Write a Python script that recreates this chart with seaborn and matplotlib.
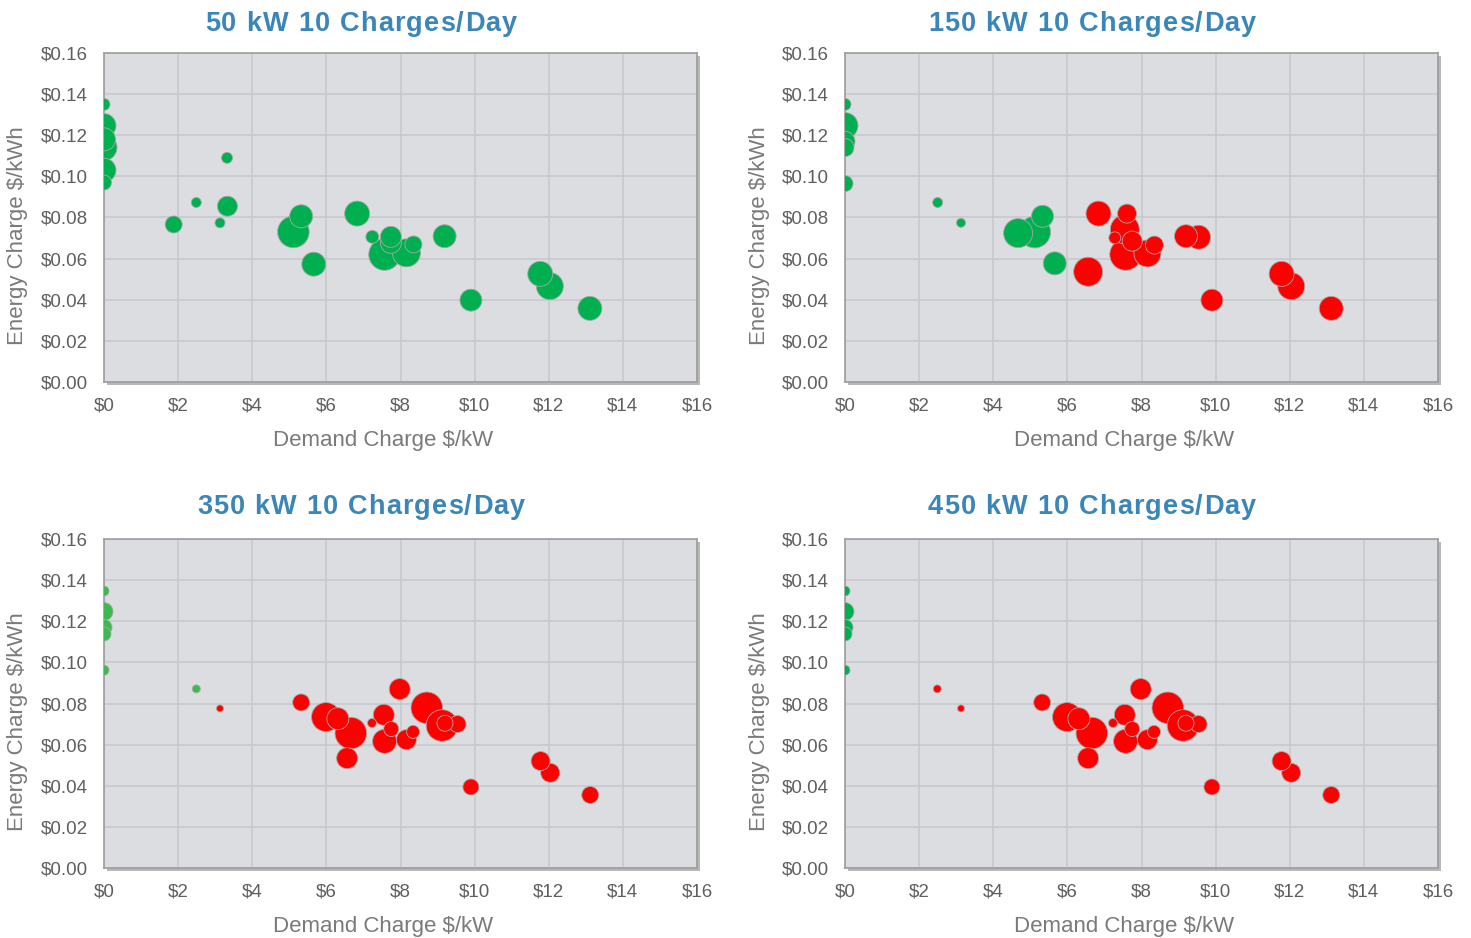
import numpy as np
import pandas as pd
import matplotlib
matplotlib.use('Agg')
import matplotlib.pyplot as plt
import seaborn as sns
from matplotlib.patches import Rectangle
from matplotlib.ticker import StrMethodFormatter

# Panel titles
titles = ['50 kW 10 Charges/Day', '150 kW 10 Charges/Day',
          '350 kW 10 Charges/Day', '450 kW 10 Charges/Day']

# 50 kW panel: demand charge ($/kW), energy charge ($/kWh), bubble value, status
demand_50 = [0, 0, 0, 0, 0, 0, 3.32, 2.49, 3.33, 1.88, 3.13, 5.11, 5.32, 5.66, 6.83,
             7.24, 7.74, 7.74, 7.57, 8.16, 8.35, 9.19, 9.90, 11.77, 12.03, 13.11]
energy_50 = [0.135, 0.1247, 0.118, 0.114, 0.103, 0.097, 0.109, 0.0873, 0.0855, 0.0766,
             0.0774, 0.073, 0.0806, 0.0573, 0.0819, 0.0706, 0.0706, 0.0677, 0.062,
             0.0628, 0.0669, 0.0709, 0.0398, 0.0526, 0.0466, 0.0358]
bubble_50 = [144, 576, 529, 676, 576, 225, 121, 100, 400, 289, 100, 1089, 529, 576, 625,
             169, 441, 441, 1024, 784, 289, 529, 484, 625, 729, 576]
status_50 = ['save'] * 26

# 150 kW panel
demand_150 = [0, 0, 0, 0, 0, 2.5, 3.13, 4.67, 5.12, 5.33, 5.66, 6.56, 6.84, 7.61, 7.55,
              7.28, 7.75, 7.57, 8.16, 8.35, 9.2, 9.54, 9.9, 11.78, 12.04, 13.12]
energy_150 = [0.135, 0.1247, 0.117, 0.114, 0.0965, 0.0873, 0.0774, 0.0724, 0.0729,
              0.0806, 0.0577, 0.0536, 0.0819, 0.0819, 0.0742, 0.0701, 0.0685, 0.062,
              0.0625, 0.0666, 0.0709, 0.0704, 0.0398, 0.0526, 0.0466, 0.0358]
bubble_150 = [144, 676, 400, 324, 256, 100, 81, 841, 1024, 484, 529, 841, 625, 361, 841,
              144, 400, 1024, 729, 324, 529, 576, 484, 625, 729, 576]
status_150 = ['save'] * 11 + ['cost'] * 15

# 350 kW and 450 kW panels share the same rates
demand_350 = [0, 0, 0, 0, 0, 2.49, 3.13, 5.32, 5.99, 6.31, 6.66, 6.56, 7.23, 7.55, 7.75,
              7.57, 7.98, 8.16, 8.34, 8.71, 9.12, 9.2, 9.54, 9.9, 11.78, 12.04, 13.12]
energy_350 = [0.1347, 0.1247, 0.117, 0.1138, 0.0962, 0.0871, 0.0776, 0.0805, 0.0734,
              0.0726, 0.0656, 0.0534, 0.0705, 0.0745, 0.0676, 0.0616, 0.087, 0.0624,
              0.0662, 0.0779, 0.0693, 0.0704, 0.07, 0.0394, 0.052, 0.0463, 0.0355]
bubble_350 = [100, 324, 256, 196, 100, 64, 49, 289, 841, 484, 1024, 441, 81, 441, 225,
              576, 441, 400, 169, 1024, 1024, 256, 289, 256, 361, 361, 289]
status_350 = ['save'] * 6 + ['cost'] * 21
status_450 = ['save'] * 5 + ['cost'] * 22

panels = [
    (demand_50, energy_50, bubble_50, status_50, '#00b050'),
    (demand_150, energy_150, bubble_150, status_150, '#00b050'),
    (demand_350, energy_350, bubble_350, status_350, '#3dba4f'),
    (demand_350, energy_350, bubble_350, status_450, '#00b050'),
]

sns.set_theme(style='darkgrid')
plt.rcParams['font.family'] = ['Liberation Sans', 'DejaVu Sans']

W, H = 1471, 938
fig = plt.figure(figsize=(W / 100, H / 100), dpi=100)
renderer = fig.canvas.get_renderer()


def text_width(s, **kw):
    t = fig.text(0, 0, s, **kw)
    w = t.get_window_extent(renderer).width
    t.remove()
    return w


def tracked_title(s, cx, cy, target_w, **kw):
    """Draw a title with extra letter spacing, centred at (cx, cy) in pixels."""
    bar = text_width('l', **kw)
    starts = [text_width(s[:k] + 'l', **kw) - bar for k in range(len(s))]
    natural = text_width(s, **kw)
    track = (target_w - natural) / (len(s) - 1)
    x0 = cx - target_w / 2
    for k, ch in enumerate(s):
        if ch == ' ':
            continue
        fig.text((x0 + starts[k] + k * track) / W, 1 - cy / H, ch,
                 ha='left', va='center', **kw)


# axes boxes in pixels: left, top
boxes = [(104, 53), (845, 53), (104, 539), (845, 539)]
aw, ah = 593, 329
title_kw = dict(fontsize=19.5, fontweight='bold', color='#3b86b9')

for i, (dem, eng, bub, stat, green) in enumerate(panels):
    left, top = boxes[i]
    # drop shadow behind the plot area
    fig.add_artist(Rectangle(((left + 3) / W, 1 - (top + ah + 3) / H), aw / W, ah / H,
                             transform=fig.transFigure, facecolor='#b8b8b8',
                             edgecolor='none', zorder=0))
    ax = fig.add_axes([left / W, 1 - (top + ah) / H, aw / W, ah / H])
    ax.set_facecolor('#dcdde0')

    df = pd.DataFrame({'demand': dem, 'energy': eng, 'bubble': bub, 'status': stat})
    df = df.sort_values('bubble', ascending=False)  # small bubbles on top

    sns.scatterplot(data=df, x='demand', y='energy', hue='status', size='bubble',
                    palette={'save': green, 'cost': '#ff0000'},
                    sizes=(0, 518.4), size_norm=(0, 1000),
                    edgecolor='#a8a8a8', linewidth=0.6, alpha=1,
                    legend=False, ax=ax, zorder=3)

    ax.set_xlim(0, 16)
    ax.set_ylim(0, 0.16)
    ax.set_xticks(np.arange(0, 17, 2))
    ax.set_yticks(np.arange(0, 0.161, 0.02))
    ax.xaxis.set_major_formatter(StrMethodFormatter('${x:.0f}'))
    ax.yaxis.set_major_formatter(StrMethodFormatter('${x:.2f}'))
    ax.grid(True, color='#c6c7ca', linewidth=1.1)
    ax.tick_params(axis='both', labelsize=13.5, colors='#5f5f5f', length=0)
    ax.tick_params(axis='x', pad=11.5)
    ax.tick_params(axis='y', pad=11.5)

    for side, sp in ax.spines.items():
        sp.set_visible(True)
        sp.set_color('#9d9d9d')
        sp.set_linewidth(1.2)

    ax.set_xlabel('Demand Charge $/kW', fontsize=16, color='#7a7a7a')
    ax.set_ylabel('Energy Charge $/kWh', fontsize=16, color='#7a7a7a')
    ax.xaxis.set_label_coords(0.471, -0.179)
    ax.xaxis.label.set_va('center')
    ax.yaxis.set_label_coords((18 - 104) / aw, 0.445)
    ax.yaxis.label.set_va('center')

    # title centred over the whole chart block
    cx = 361 if i % 2 == 0 else 1092
    cy = 24 if i < 2 else 507
    target = 312 + (len(titles[i]) - len(titles[0])) * 16
    tracked_title(titles[i], cx, cy, target, **title_kw)

fig.savefig('out.png', dpi=100)
